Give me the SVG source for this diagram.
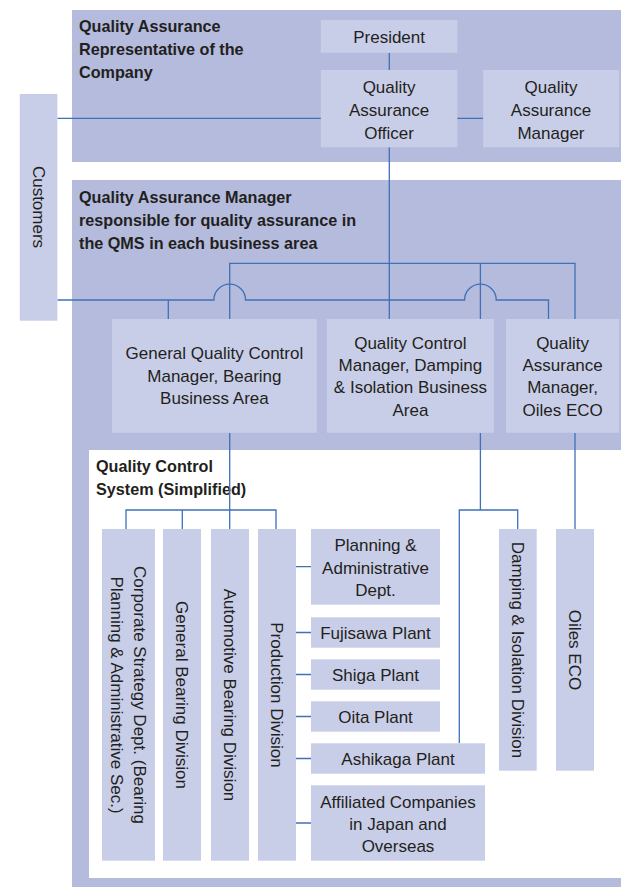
<svg xmlns="http://www.w3.org/2000/svg" width="621" height="887" viewBox="0 0 621 887">
<style>
.band{fill:#b4bbdd}
.box{fill:#c9cee8}
.t{font-family:"Liberation Sans",Arial,sans-serif;font-size:17px;fill:#231f20;text-anchor:middle}
.h{font-family:"Liberation Sans",Arial,sans-serif;font-size:16.2px;font-weight:bold;fill:#231f20}
.c{fill:none;stroke:#3f70b8;stroke-width:1.3}
</style>
<rect width="621" height="887" fill="#ffffff"/>
<g id="band-top"><rect class="band" x="72" y="10" width="549" height="152"/>
<text class="h" x="79" y="32">Quality Assurance</text>
<text class="h" x="79" y="55">Representative of the</text>
<text class="h" x="79" y="78">Company</text></g>
<g id="band-mid"><rect class="band" x="72" y="180" width="549" height="707"/>
<rect x="89" y="450" width="532" height="428" fill="#ffffff"/>
<text class="h" x="79" y="202.5">Quality Assurance Manager</text>
<text class="h" x="79" y="226">responsible for quality assurance in</text>
<text class="h" x="79" y="249">the QMS in each business area</text>
<text class="h" x="96" y="472">Quality Control</text>
<text class="h" x="96" y="495">System (Simplified)</text></g>
<g id="connectors">
<path class="c" d="M389.3 52.7V70M389.3 147V319M57.4 118.3H321M457 118.3H483.2"/>
<path class="c" d="M229.7 319V263.3H575V319M480.4 263.3V319"/>
<path class="c" d="M57.4 300H213.9A15.8 15.8 0 0 1 245.5 300H464.6A15.8 15.8 0 0 1 496.2 300H548.5V319M168.3 300V319"/>
<path class="c" d="M229.7 433V529M126 529V510H276V529M182.3 510V529"/>
<path class="c" d="M480.4 433V510M459.3 743.3V510H517.7V529M575 433V529"/>
<path class="c" d="M296 566.7H311M296 632.5H311M296 674.5H311M296 716.5H311M296 758.5H311M296 823H311"/>
</g>
<g id="n-customers"><rect class="box" x="19.8" y="94" width="37.6" height="226.7"/>
<text class="t" transform="translate(38.6 207) rotate(90)" y="6">Customers</text></g>
<g id="n-president"><rect class="box" x="320.8" y="20" width="136.6" height="32.7"/>
<text class="t" x="389.1" y="42.5">President</text></g>
<g id="n-qa-officer"><rect class="box" x="320.8" y="70" width="136.6" height="77.3"/>
<text class="t" x="389.1" y="93">Quality</text><text class="t" x="389.1" y="116">Assurance</text><text class="t" x="389.1" y="138.5">Officer</text></g>
<g id="n-qa-manager"><rect class="box" x="483.2" y="70" width="136" height="77.3"/>
<text class="t" x="551" y="93">Quality</text><text class="t" x="551" y="116">Assurance</text><text class="t" x="551" y="138.5">Manager</text></g>
<g id="n-gqc"><rect class="box" x="112" y="319" width="204.8" height="113.7"/>
<text class="t" x="214.4" y="359">General Quality Control</text><text class="t" x="214.4" y="382">Manager, Bearing</text><text class="t" x="214.4" y="404">Business Area</text></g>
<g id="n-qc-damping"><rect class="box" x="326.9" y="319" width="167" height="113.7"/>
<text class="t" x="410.4" y="348.5">Quality Control</text><text class="t" x="410.4" y="370.5">Manager, Damping</text><text class="t" x="410.4" y="393">&amp; Isolation Business</text><text class="t" x="410.4" y="415.5">Area</text></g>
<g id="n-qa-oiles"><rect class="box" x="506" y="319" width="113.2" height="113.7"/>
<text class="t" x="562.6" y="348.5">Quality</text><text class="t" x="562.6" y="370.5">Assurance</text><text class="t" x="562.6" y="393">Manager,</text><text class="t" x="562.6" y="415.5">Oiles ECO</text></g>
<g id="n-corporate"><rect class="box" x="102" y="529" width="53" height="331.7"/>
<text class="t" transform="translate(128.5 695) rotate(90)"><tspan x="0" y="-5">Corporate Strategy Dept. (Bearing</tspan><tspan x="0" y="17.5">Planning &amp; Administrative Sec.)</tspan></text></g>
<g id="n-general-bearing"><rect class="box" x="163" y="529" width="38" height="331.7"/>
<text class="t" transform="translate(182 695) rotate(90)" y="6">General Bearing Division</text></g>
<g id="n-automotive"><rect class="box" x="211" y="529" width="38" height="331.7"/>
<text class="t" transform="translate(230 695) rotate(90)" y="6">Automotive Bearing Division</text></g>
<g id="n-production"><rect class="box" x="258" y="529" width="38" height="331.7"/>
<text class="t" transform="translate(277 695) rotate(90)" y="6">Production Division</text></g>
<g id="n-planning"><rect class="box" x="311" y="529" width="129" height="75.7"/>
<text class="t" x="375.5" y="551">Planning &amp;</text><text class="t" x="375.5" y="573.5">Administrative</text><text class="t" x="375.5" y="596">Dept.</text></g>
<g id="n-fujisawa"><rect class="box" x="311" y="617.3" width="129" height="30.4"/>
<text class="t" x="375.5" y="639">Fujisawa Plant</text></g>
<g id="n-shiga"><rect class="box" x="311" y="659.3" width="129" height="30.4"/>
<text class="t" x="375.5" y="681">Shiga Plant</text></g>
<g id="n-oita"><rect class="box" x="311" y="701.3" width="129" height="30.4"/>
<text class="t" x="375.5" y="723">Oita Plant</text></g>
<g id="n-ashikaga"><rect class="box" x="311" y="743.3" width="174" height="30.4"/>
<text class="t" x="398" y="765">Ashikaga Plant</text></g>
<g id="n-affiliated"><rect class="box" x="311" y="785.3" width="174" height="75.4"/>
<text class="t" x="398" y="807.5">Affiliated Companies</text><text class="t" x="398" y="829.5">in Japan and</text><text class="t" x="398" y="852">Overseas</text></g>
<g id="n-damping-div"><rect class="box" x="499" y="529" width="37.7" height="241.7"/>
<text class="t" transform="translate(517.8 650) rotate(90)" y="6">Damping &amp; Isolation Division</text></g>
<g id="n-oiles-eco"><rect class="box" x="556" y="529" width="38" height="241.7"/>
<text class="t" transform="translate(575 650) rotate(90)" y="6">Oiles ECO</text></g>
</svg>
